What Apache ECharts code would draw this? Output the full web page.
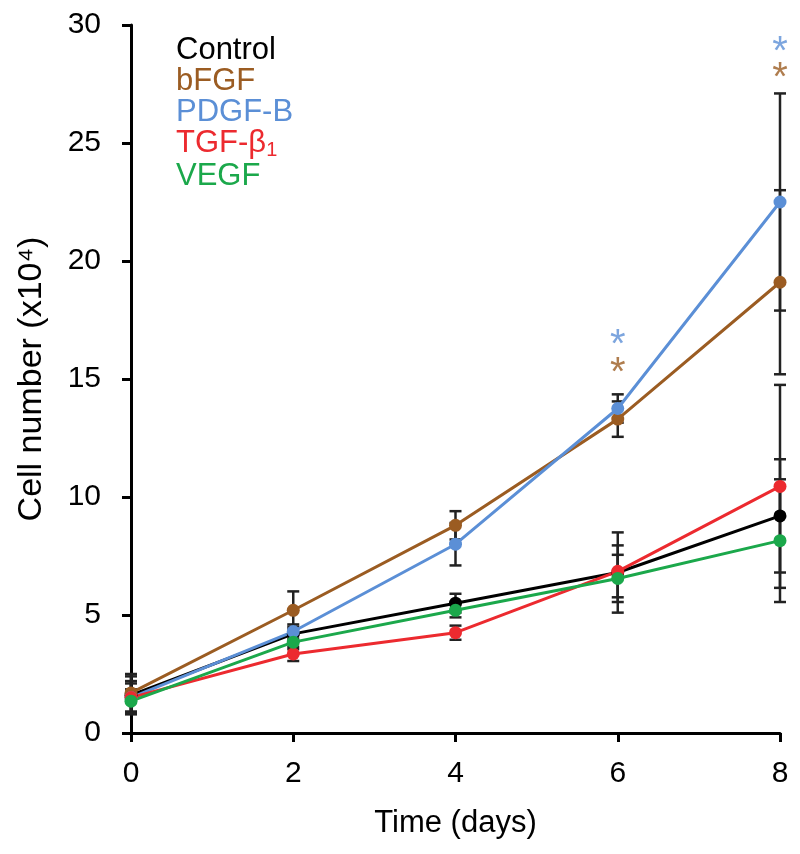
<!DOCTYPE html>
<html>
<head>
<meta charset="utf-8">
<script src="https://cdn.jsdelivr.net/npm/echarts@6/dist/echarts.min.js"></script>
<style>
  html, body { margin: 0; padding: 0; background: #fff; }
  #chart { width: 800px; height: 854px; }
</style>
</head>
<body>
<div id="chart"></div>
<script>
// time points (days)
const days = [0, 2, 4, 6, 8]
const groupNames = ['Control', 'bFGF', 'PDGF-B', 'TGF-β1', 'VEGF']
const groupColors = ['#000000', '#9b5c22', '#5b8fd6', '#ec2a2f', '#1ba84b']

// mean cell number (x10^4)
const controlMean = [1.6, 4.2, 5.5, 6.8, 9.2]
const bfgfMean = [1.7, 5.2, 8.8, 13.3, 19.1]
const pdgfMean = [1.5, 4.3, 8.0, 13.75, 22.5]
const tgfMean = [1.5, 3.35, 4.25, 6.85, 10.45]
const vegfMean = [1.35, 3.85, 5.2, 6.55, 8.15]

// error (SD)
const controlErr = [0.8, 0.3, 0.4, 1.7, 2.4]
const bfgfErr = [0.8, 0.8, 0.6, 0.75, 3.9]
const pdgfErr = [0.7, 0.3, 0.9, 0.6, 4.6]
const tgfErr = [0.6, 0.3, 0.3, 1.1, 4.3]
const vegfErr = [0.5, 0.3, 0.3, 1.0, 2.6]

// significance marks: [day, y position, group index]
const starMarks = [
  [6, 16.8, 2],
  [6, 15.6, 1],
  [8, 29.2, 2],
  [8, 28.1, 1],
]

const means = [controlMean, bfgfMean, pdgfMean, tgfMean, vegfMean]
const errs = [controlErr, bfgfErr, pdgfErr, tgfErr, vegfErr]

const myChart = echarts.init(document.getElementById('chart'))

// 误差线
function errorRender(params, api) {
  const x = api.value(0)
  const m = api.value(1)
  const e = api.value(2)
  const top = api.coord([x, m + e])
  const bot = api.coord([x, m - e])
  const cap = 6
  const style = { stroke: '#222', lineWidth: 2.5 }
  return {
    type: 'group',
    children: [
      { type: 'line', shape: { x1: top[0], y1: top[1], x2: bot[0], y2: bot[1] }, style: style },
      { type: 'line', shape: { x1: top[0] - cap, y1: top[1], x2: top[0] + cap, y2: top[1] }, style: style },
      { type: 'line', shape: { x1: bot[0] - cap, y1: bot[1], x2: bot[0] + cap, y2: bot[1] }, style: style },
    ],
  }
}

let series = []
groupNames.forEach((name, i) => {
  series.push({
    type: 'custom',
    name: name + '-err',
    renderItem: errorRender,
    data: days.map((d, k) => [d, means[i][k], errs[i][k]]),
    z: 1,
    silent: true,
  })
})
groupNames.forEach((name, i) => {
  series.push({
    type: 'line',
    name: name,
    data: days.map((d, k) => [d, means[i][k]]),
    color: groupColors[i],
    lineStyle: { width: 3 },
    symbol: 'circle',
    symbolSize: 13,
    z: 3,
  })
})
series.push({
  type: 'scatter',
  name: 'stars',
  data: starMarks.map((s) => ({
    value: [s[0], s[1]],
    label: { color: groupColors[s[2]] },
  })),
  symbolSize: 0,
  label: {
    show: true,
    position: 'inside',
    formatter: '*',
    fontSize: 40,
    fontFamily: 'Liberation Sans',
    offset: [0, 9],
  },
  z: 4,
})

const axisText = { fontSize: 30, color: '#000', fontFamily: 'Liberation Sans' }

let option = {
  animation: false,
  backgroundColor: '#fff',
  grid: { left: 131, right: 20, top: 25, bottom: 121 },
  legend: {
    data: groupNames.map((n, i) => ({ name: n, textStyle: { color: groupColors[i] } })),
    orient: 'vertical',
    left: 166,
    top: 30,
    icon: 'none',
    itemWidth: 0,
    itemGap: 0,
    textStyle: {
      fontSize: 31,
      fontFamily: 'Liberation Sans',
      rich: {
        sub: { fontSize: 20, color: '#ec2a2f', padding: [14, 0, 0, 0], fontFamily: 'Liberation Sans' },
      },
    },
    formatter: (n) => (n === 'TGF-β1' ? 'TGF-β{sub|1}' : n),
    selectedMode: false,
  },
  xAxis: {
    type: 'value',
    min: 0,
    max: 8,
    interval: 2,
    name: 'Time (days)',
    nameLocation: 'middle',
    nameGap: 75,
    nameTextStyle: { fontSize: 31, color: '#000', fontFamily: 'Liberation Sans' },
    axisLine: { lineStyle: { color: '#000', width: 3 } },
    axisTick: { show: true, length: 9, lineStyle: { color: '#000', width: 3 } },
    axisLabel: Object.assign({ margin: 26 }, axisText),
    splitLine: { show: false },
  },
  yAxis: {
    type: 'value',
    min: 0,
    max: 30,
    interval: 5,
    name: 'Cell number (x10⁴)',
    nameLocation: 'middle',
    nameGap: 82,
    nameTextStyle: { fontSize: 34, color: '#000', fontFamily: 'Liberation Sans' },
    axisLine: { show: true, lineStyle: { color: '#000', width: 3 } },
    axisTick: { show: true, length: 9, lineStyle: { color: '#000', width: 3 } },
    axisLabel: Object.assign({ margin: 30 }, axisText),
    splitLine: { show: false },
  },
  series: series,
}
myChart.setOption(option)
</script>
</body>
</html>
